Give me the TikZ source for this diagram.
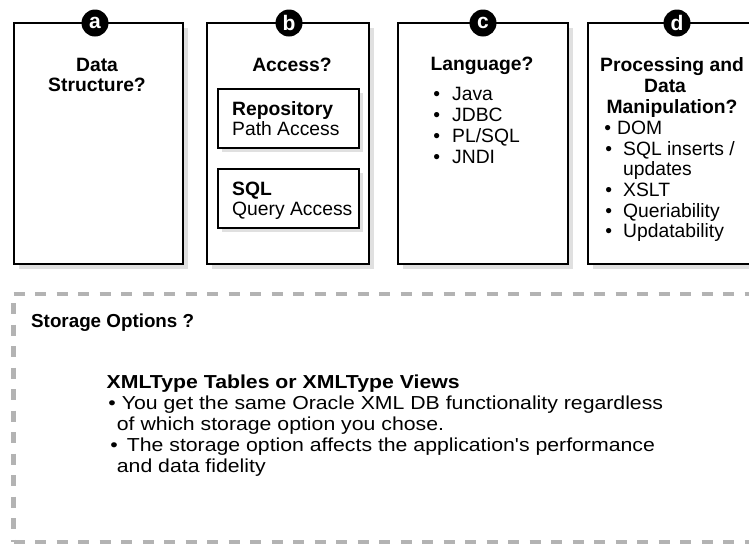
\documentclass[tikz,border=0pt]{standalone}
\usepackage{fontspec}
\setmainfont{Liberation Sans}
\newfontfamily\widesans[FakeStretch=1.13]{Liberation Sans}
\definecolor{dashgray}{HTML}{B3B3B3}
\definecolor{shadowgray}{HTML}{E0E0E0}

\begin{document}
\begin{tikzpicture}[x=1pt, y=-1pt,
        frame/.style={draw=black, line width=2pt, fill=white},
        shade/.style={fill=shadowgray},
        badge/.style={circle, fill=black, text=white, minimum size=27pt, inner sep=0pt,
            font=\fontsize{21}{21}\selectfont\bfseries},
        head/.style={anchor=base, inner sep=0pt, font=\fontsize{19.3}{20}\selectfont\bfseries},
        item/.style={anchor=base west, inner sep=0pt, font=\fontsize{19.3}{20}\selectfont},
        widehead/.style={anchor=base west, inner sep=0pt, font=\fontsize{18.8}{20}\widesans\bfseries},
        wideitem/.style={anchor=base west, inner sep=0pt, font=\fontsize{18.8}{20}\widesans}]
        \useasboundingbox (0, 0) rectangle (749, 544);

        % the four question boxes
        \foreach \l/\r in {14/183, 207/369, 398/568, 588/762}{
            \fill[shade] (\l+5, 28) rectangle (\r+5, 269);
            \draw[frame] (\l, 23) rectangle (\r, 264);
        }

        \node[badge] (ba) at (95, 23) {a};
        \node[badge] (bb) at (289, 23) {b};
        \node[badge] (bc) at (483, 23) {c};
        \node[badge] (bd) at (677, 23) {d};

        % a
        \node[head] (datatitle) at (97, 71) {Data};
        \node[head] (structtitle) at (97, 91.5) {Structure?};

        % b
        \node[head] (accesstitle) at (292, 71) {Access?};
        \fill[shade] (222, 93) rectangle (363, 152);
        \draw[frame] (218, 89) rectangle (359, 148);
        \fill[shade] (222, 173) rectangle (363, 232);
        \draw[frame] (218, 169) rectangle (359, 228);
        \node[head, anchor=base west] (repo) at (232, 115) {Repository};
        \node[item] (repopath) at (232, 135) {Path Access};
        \node[head, anchor=base west] (sql) at (232, 195) {SQL};
        \node[item] (sqlquery) at (232, 215) {Query Access};

        % c
        \node[head] (langtitle) at (482, 70) {Language?};
        \foreach \t [count=\i] in {Java, JDBC, {PL/SQL}, JNDI}{
            \node[item] (lang\i) at (452, 80+20.8*\i) {\llap{\textbullet\hspace{12pt}}\t};
        }

        % d
        \node[head] (proctitle) at (672, 71) {Processing and};
        \node[head] (procdata) at (665, 92) {Data};
        \node[head] (procmanip) at (672, 113) {Manipulation?};
        \node[item] (dom) at (617, 134) {\llap{\textbullet\hspace{6pt}}DOM};
        \node[item] (sqlins) at (623, 155) {\llap{\textbullet\hspace{11pt}}SQL inserts /};
        \node[item] (upd) at (623, 175) {updates};
        \node[item] (xslt) at (623, 196) {\llap{\textbullet\hspace{11pt}}XSLT};
        \node[item] (query) at (623, 217) {\llap{\textbullet\hspace{11pt}}Queriability};
        \node[item] (update) at (623, 237.5) {\llap{\textbullet\hspace{11pt}}Updatability};

        % storage options
        \draw[dashgray, line width=4.5pt, dash pattern=on 11pt off 10.5pt] (13.5, 294) -- (790, 294);
        \draw[dashgray, line width=4.5pt, dash pattern=on 11pt off 10.5pt] (13.5, 303) -- (13.5, 542);
        \draw[dashgray, line width=4.5pt, dash pattern=on 11pt off 10.5pt] (13.5, 542) -- (790, 542);

        \node[anchor=base west, inner sep=0pt, font=\fontsize{18.8}{20}\selectfont\bfseries] (storage) at (31, 327) {Storage Options ?};
        \node[widehead] (xmltitle) at (106.5, 388) {XMLType Tables or XMLType Views};
        \node[wideitem] (opt1) at (121.7, 409) {\llap{\textbullet\hspace{6pt}}You get the same Oracle XML DB functionality regardless};
        \node[wideitem] (opt1b) at (116.7, 430) {of which storage option you chose.};
        \node[wideitem] (opt2) at (126.7, 451) {\llap{\textbullet\hspace{9pt}}The storage option affects the application's performance};
        \node[wideitem] (opt2b) at (116.7, 472) {and data fidelity};
    \end{tikzpicture}
\end{document}
